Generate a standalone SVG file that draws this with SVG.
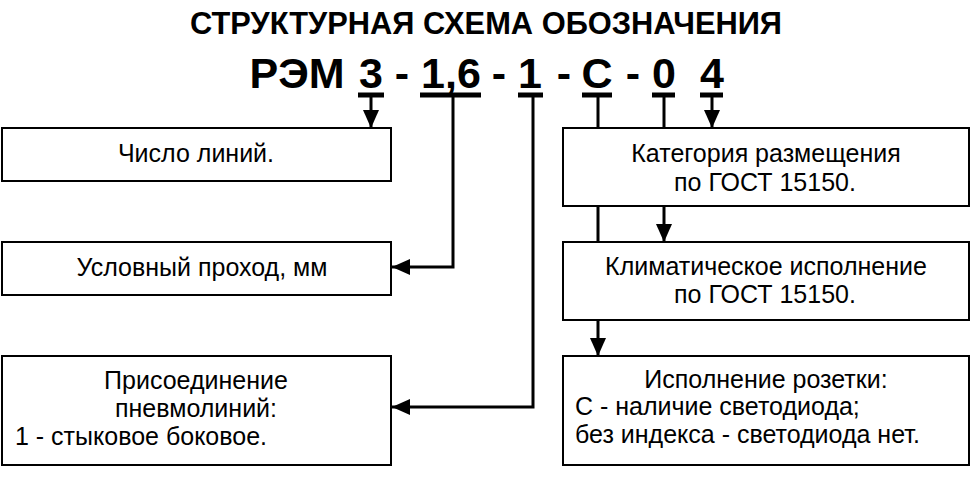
<svg xmlns="http://www.w3.org/2000/svg" width="974" height="479" viewBox="0 0 974 479">
<style>
text{font-family:"Liberation Sans",Arial,sans-serif;fill:#000}
.t{font-size:25px}
.c{text-anchor:middle}
.h{font-weight:bold;font-size:32px;text-anchor:middle}
.k{font-weight:bold;font-size:43px;text-anchor:middle}
.box{fill:#fff;stroke:#000;stroke-width:2}
.ln{fill:none;stroke:#000;stroke-width:3}
.ul{stroke:#000;stroke-width:5}
</style>
<defs>
<marker id="ar" markerWidth="18" markerHeight="16" refX="18" refY="8" orient="auto" markerUnits="userSpaceOnUse">
<path d="M0,0 L18,8 L0,16 Z" fill="#000"/>
</marker>
</defs>
<rect width="974" height="479" fill="#fff"/>
<g id="title">
<text class="h" x="486" y="34" textLength="592" lengthAdjust="spacingAndGlyphs">СТРУКТУРНАЯ СХЕМА ОБОЗНАЧЕНИЯ</text>
<text class="k" x="297" y="88">РЭМ</text>
<text class="k" x="371" y="88">3</text>
<text class="k" x="402" y="88">-</text>
<text class="k" x="451" y="88">1,6</text>
<text class="k" x="499" y="88">-</text>
<text class="k" x="530" y="88">1</text>
<text class="k" x="564" y="88">-</text>
<text class="k" x="597" y="88">С</text>
<text class="k" x="633" y="88">-</text>
<text class="k" x="664" y="88">0</text>
<text class="k" x="712" y="88">4</text>
<line class="ul" x1="358" y1="95" x2="384" y2="95"/>
<line class="ul" x1="420" y1="95" x2="481" y2="95"/>
<line class="ul" x1="518" y1="95" x2="543" y2="95"/>
<line class="ul" x1="582" y1="95" x2="612" y2="95"/>
<line class="ul" x1="652" y1="95" x2="675" y2="95"/>
<line class="ul" x1="700" y1="95" x2="723" y2="95"/>
</g>
<g id="connectors">
<line class="ln" x1="371" y1="96" x2="371" y2="128" marker-end="url(#ar)"/>
<polyline class="ln" points="453,96 453,267 392,267" marker-end="url(#ar)"/>
<polyline class="ln" points="533,96 533,407 392,407" marker-end="url(#ar)"/>
<line class="ln" x1="598" y1="96" x2="598" y2="356" marker-end="url(#ar)"/>
<line class="ln" x1="664" y1="96" x2="664" y2="242" marker-end="url(#ar)"/>
<line class="ln" x1="712" y1="96" x2="712" y2="128" marker-end="url(#ar)"/>
</g>
<g id="n1">
<rect class="box" x="2" y="128" width="389" height="53"/>
<text class="t c" x="196" y="162">Число линий.</text>
</g>
<g id="n2">
<rect class="box" x="2" y="242" width="389" height="53"/>
<text class="t c" x="202" y="276">Условный проход, мм</text>
</g>
<g id="n3">
<rect class="box" x="2" y="356" width="389" height="109"/>
<text class="t c" x="196" y="389">Присоединение</text>
<text class="t c" x="196" y="417">пневмолиний:</text>
<text class="t" x="15" y="445">1 - стыковое боковое.</text>
</g>
<g id="n4">
<rect class="box" x="563" y="128" width="406" height="78"/>
<text class="t c" x="766" y="162">Категория размещения</text>
<text class="t c" x="765" y="191">по ГОСТ 15150.</text>
</g>
<g id="n5">
<rect class="box" x="563" y="242" width="406" height="78"/>
<text class="t c" x="766" y="275">Климатическое исполнение</text>
<text class="t c" x="765" y="303">по ГОСТ 15150.</text>
</g>
<g id="n6">
<rect class="box" x="563" y="356" width="406" height="109"/>
<text class="t c" x="766" y="388">Исполнение розетки:</text>
<text class="t" x="575" y="415">С - наличие светодиода;</text>
<text class="t" x="575" y="443">без индекса - светодиода нет.</text>
</g>
</svg>
